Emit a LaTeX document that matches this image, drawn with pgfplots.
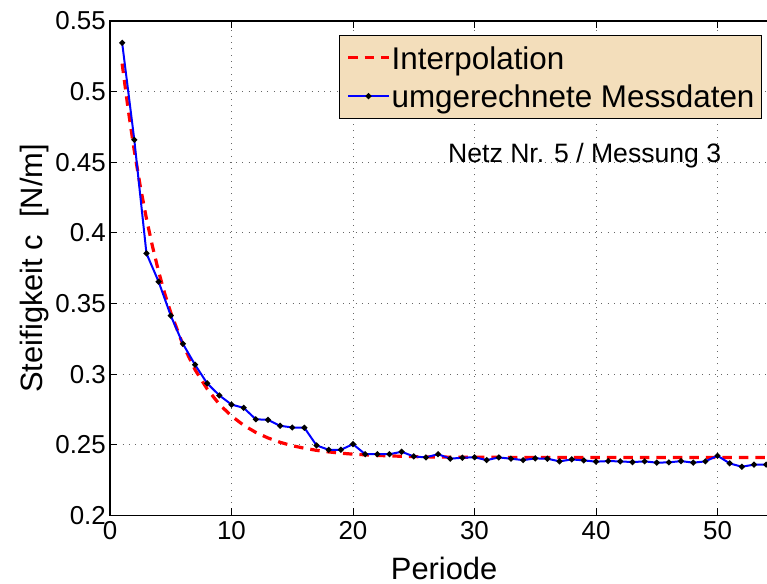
\documentclass[border=0pt]{standalone}
\usepackage{fontspec}
\setmainfont{Liberation Sans}
\usepackage{pgfplots}
\pgfplotsset{compat=1.18}

\definecolor{legendfill}{RGB}{243,222,187}

\begin{document}
\begin{tikzpicture}
\begin{axis}[
  name=ax,
  x=12.15bp, y=1413bp,
  xmin=0, xmax=55, ymin=0.2, ymax=0.55,
  xtick={0,10,20,30,40,50},
  ytick={0.2,0.25,0.3,0.35,0.4,0.45,0.5,0.55},
  yticklabels={0.2,0.25,0.3,0.35,0.4,0.45,0.5,0.55},
  axis line style={line width=1.2bp},
  tick style={line width=1bp, black},
  major tick length=7bp,
  tick align=inside,
  xtick pos=both, ytick pos=both,
  grid=major,
  major grid style={black!60, line width=0.8bp, dash pattern=on 0.8bp off 5.5bp},
  /pgf/number format/assume math mode=true,
  tick label style={font=\fontsize{26}{26}\selectfont, inner sep=0pt},
  xticklabel style={yshift=-6bp},
  yticklabel style={xshift=-4bp},
  xlabel={Periode},
  ylabel={Steifigkeit c\ \ [N/m]},
  label style={font=\fontsize{31}{31}\selectfont},
  xlabel style={at={(axis description cs:0.5,-0.1285)}, anchor=base},
  ylabel style={at={(axis description cs:-0.113,0.5)}, anchor=center},
  legend cell align=left,
  legend style={
    at={(axis description cs:0.9757,0.9717)}, anchor=north east,
    fill=legendfill, draw=black, line width=1bp,
    font=\fontsize{31.5}{31.5}\selectfont,
    inner xsep=7bp, inner ysep=5bp,
    row sep=3.6bp, column sep=1bp,
    nodes={inner sep=0pt, text height=29bp, text depth=5.7bp},
  },
  legend image code/.code={%
    \draw[mark repeat=2, mark phase=2, #1]
      plot coordinates {(0bp,0bp) (20.5bp,0bp) (41bp,0bp)};},
]
% fitted exponential decay
\addplot[red, line width=3.2bp, dash pattern=on 9.5bp off 7bp] coordinates {
  (1,0.5198) (1.5,0.4871) (2,0.4581) (2.5,0.4326) (3,0.4101) (3.5,0.3903)
  (4,0.3727) (4.5,0.3572) (5,0.3436) (6,0.3209) (7,0.3032) (8,0.2895)
  (9,0.2787) (10,0.2704) (11,0.2639) (12,0.2588) (13,0.2549) (14,0.2518)
  (15,0.2494) (16,0.2476) (17,0.2461) (18,0.2450) (19,0.2441) (20,0.2434)
  (22,0.2425) (24,0.2419) (26,0.2415) (28,0.2413) (30,0.2412) (35,0.2411)
  (40,0.2410) (45,0.2410) (50,0.2410) (55,0.2410)
};
\addlegendentry{Interpolation}
% measured stiffness per period
\addplot[blue, line width=2bp, mark=*, mark size=1.8bp,
         mark options={black, fill=black, solid}] coordinates {
  (1,0.5345) (2,0.4659) (3,0.3855) (4,0.3655) (5,0.3415) (6,0.3215)
  (7,0.3067) (8,0.2935) (9,0.2850) (10,0.2785) (11,0.2762) (12,0.2681)
  (13,0.2677) (14,0.2635) (15,0.2623) (16,0.2621) (17,0.2496) (18,0.2465)
  (19,0.2465) (20,0.2505) (21,0.2434) (22,0.2434) (23,0.2434) (24,0.2451)
  (25,0.2418) (26,0.2411) (27,0.2434) (28,0.2402) (29,0.2409) (30,0.2412)
  (31,0.2392) (32,0.2411) (33,0.2402) (34,0.2392) (35,0.2404) (36,0.2402)
  (37,0.2383) (38,0.2397) (39,0.2390) (40,0.2381) (41,0.2385) (42,0.2383)
  (43,0.2378) (44,0.2383) (45,0.2374) (46,0.2376) (47,0.2385) (48,0.2374)
  (49,0.2383) (50,0.2423) (51,0.2369) (52,0.2345) (53,0.2360) (54,0.2360)
};
\addlegendentry{umgerechnete Messdaten}
\node[anchor=base west, font=\fontsize{26.7}{26.7}\selectfont, inner sep=0pt]
  at (rel axis cs:0.5058,0.7142) {Netz Nr. 5 / Messung 3};
\coordinate (O) at (rel axis cs:0,0);
\end{axis}
\pgfresetboundingbox
\path[use as bounding box] ([shift={(-110bp,-68.5bp)}]O) rectangle ++(767bp,584bp);
\end{tikzpicture}
\end{document}
